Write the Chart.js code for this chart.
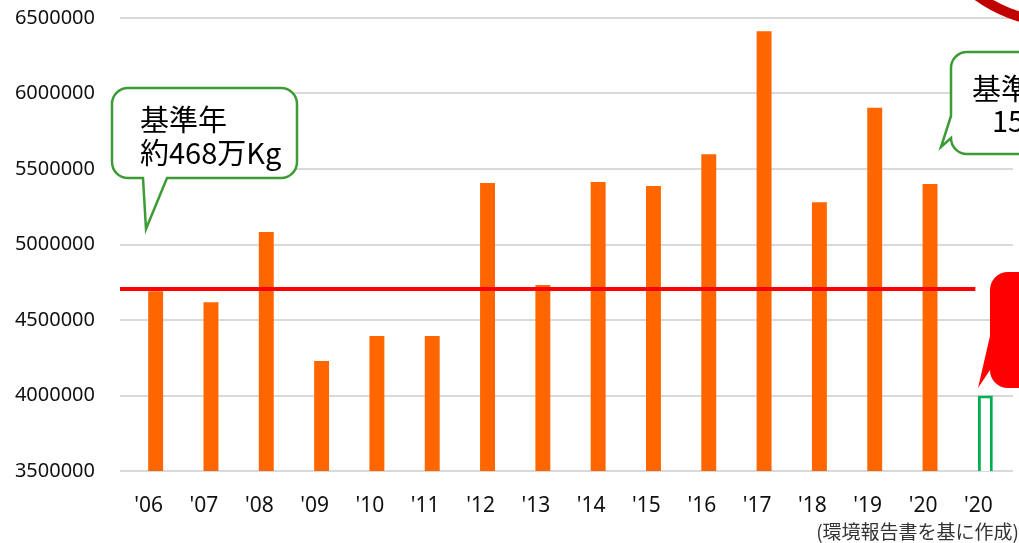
<!DOCTYPE html>
<html>
<head>
<meta charset="utf-8">
<script src="https://cdn.jsdelivr.net/npm/chart.js@4"></script>
<style>
  body { margin: 0; background: #fff; }
  #wrap { width: 1019px; height: 543px; }
</style>
</head>
<body>
<div id="wrap"><canvas id="chart" width="1019" height="543"></canvas></div>
<script>
// data
const years = ["'06", "'07", "'08", "'09", "'10", "'11", "'12", "'13", "'14", "'15", "'16", "'17", "'18", "'19", "'20", "'20"];
const emissions = [4690000, 4617000, 5083000, 4228000, 4394000, 4394000, 5407000, 4732000, 5414000, 5387000, 5597000, 6412000, 5279000, 5906000, 5400000, null];
const target = [null, null, null, null, null, null, null, null, null, null, null, null, null, null, null, 4000000];
const baseline = 4705000;
const yTicks = [3500000, 4000000, 4500000, 5000000, 5500000, 6000000, 6500000];

const numFont = '"Noto Sans", "DejaVu Sans", sans-serif';
const jpFont = '"Noto Sans CJK JP", "Noto Sans", sans-serif';

// red base-year line, drawn over the bars
const baseLine = {
    id: 'baseLine',
    afterDatasetsDraw(chart) {
        const { ctx, chartArea, scales } = chart;
        const y = scales.y.getPixelForValue(baseline);
        const lastX = scales.x.getPixelForValue(years.length - 1);
        ctx.save();
        ctx.strokeStyle = '#ff0000';
        ctx.lineWidth = 4;
        ctx.beginPath();
        ctx.moveTo(chartArea.left - 8, y);
        ctx.lineTo(lastX - 10, y);
        ctx.stroke();
        ctx.restore();
    }
};

// speech bubbles and notes laid over the chart
const overlays = {
    id: 'overlays',
    afterDraw(chart) {
        const ctx = chart.ctx;
        ctx.save();

        // left bubble (tail at bottom)
        let x0 = 112, y0 = 88, x1 = 297, y1 = 178, r = 16;
        ctx.beginPath();
        ctx.moveTo(x0 + r, y0);
        ctx.lineTo(x1 - r, y0);
        ctx.arcTo(x1, y0, x1, y0 + r, r);
        ctx.lineTo(x1, y1 - r);
        ctx.arcTo(x1, y1, x1 - r, y1, r);
        ctx.lineTo(167, y1);
        ctx.lineTo(146, 229);
        ctx.lineTo(143, y1);
        ctx.lineTo(x0 + r, y1);
        ctx.arcTo(x0, y1, x0, y1 - r, r);
        ctx.lineTo(x0, y0 + r);
        ctx.arcTo(x0, y0, x0 + r, y0, r);
        ctx.closePath();
        ctx.fillStyle = '#fff';
        ctx.fill();
        ctx.strokeStyle = '#3d9b35';
        ctx.lineWidth = 2.5;
        ctx.stroke();

        ctx.fillStyle = '#000';
        ctx.font = '29px ' + jpFont;
        ctx.textBaseline = 'middle';
        ctx.textAlign = 'left';
        ctx.fillText('基準年', 140, 120);
        ctx.fillText('約468万Kg', 140, 153);

        // right bubble (tail on left side), runs off the edge
        x0 = 951; y0 = 52; x1 = 1090; y1 = 154; r = 16;
        ctx.beginPath();
        ctx.moveTo(x0 + r, y0);
        ctx.lineTo(x1 - r, y0);
        ctx.arcTo(x1, y0, x1, y0 + r, r);
        ctx.lineTo(x1, y1 - r);
        ctx.arcTo(x1, y1, x1 - r, y1, r);
        ctx.lineTo(x0 + r, y1);
        ctx.arcTo(x0, y1, x0, y1 - r, r);
        ctx.lineTo(941, 147);
        ctx.lineTo(x0, 116);
        ctx.lineTo(x0, y0 + r);
        ctx.arcTo(x0, y0, x0 + r, y0, r);
        ctx.closePath();
        ctx.fillStyle = '#fff';
        ctx.fill();
        ctx.strokeStyle = '#3d9b35';
        ctx.stroke();

        ctx.fillStyle = '#000';
        ctx.fillText('基準年比', 972, 89);
        ctx.fillText('15%増', 992, 121);

        // red bubble pointing at the target bar
        x0 = 990; y0 = 272; x1 = 1090; y1 = 388; r = 18;
        ctx.beginPath();
        ctx.moveTo(x0 + r, y0);
        ctx.lineTo(x1 - r, y0);
        ctx.lineTo(x1, y1);
        ctx.lineTo(x0 + r, y1);
        ctx.arcTo(x0, y1, x0, y1 - r, r);
        ctx.lineTo(978, 388);
        ctx.lineTo(x0, 336);
        ctx.lineTo(x0, y0 + r);
        ctx.arcTo(x0, y0, x0 + r, y0, r);
        ctx.closePath();
        ctx.fillStyle = '#ff0000';
        ctx.fill();

        // dark red ring at the top right
        ctx.beginPath();
        ctx.arc(1062, -122, 145, 0, Math.PI * 2);
        ctx.strokeStyle = '#c00000';
        ctx.lineWidth = 10;
        ctx.stroke();

        // source note
        ctx.fillStyle = '#333';
        ctx.font = '19px ' + jpFont;
        ctx.textAlign = 'right';
        ctx.textBaseline = 'middle';
        ctx.fillText('(環境報告書を基に作成)', 1019, 532);

        ctx.restore();
    }
};

new Chart(document.getElementById('chart'), {
    type: 'bar',
    data: {
        labels: years,
        datasets: [{
            data: emissions,
            backgroundColor: '#ff6600',
            borderWidth: 0,
            grouped: false,
            categoryPercentage: 1,
            barPercentage: 0.27
        }, {
            data: target,
            backgroundColor: '#ffffff',
            borderColor: '#00b050',
            borderWidth: 3,
            borderSkipped: false,
            grouped: false,
            categoryPercentage: 1,
            barPercentage: 0.27
        }]
    },
    options: {
        responsive: false,
        animation: false,
        devicePixelRatio: 1,
        layout: { padding: { top: 0, right: 6, left: 0, bottom: 0 } },
        plugins: {
            legend: { display: false },
            tooltip: { enabled: false }
        },
        scales: {
            x: {
                grid: { display: false },
                border: { display: false },
                ticks: {
                    font: { family: numFont, size: 21 },
                    color: '#111',
                    padding: 14,
                    labelOffset: -7,
                    maxRotation: 0,
                    autoSkip: false
                },
                afterFit(scale) { scale.height = 72; }
            },
            y: {
                min: yTicks[0],
                max: yTicks[yTicks.length - 1],
                afterBuildTicks(scale) { scale.ticks = yTicks.map(v => ({ value: v })); },
                grid: {
                    color: '#d9d9d9',
                    lineWidth: 2,
                    drawTicks: true,
                    tickLength: 8,
                    tickColor: '#d9d9d9',
                    tickWidth: 2
                },
                border: { display: false },
                ticks: {
                    font: { family: numFont, size: 20 },
                    color: '#111',
                    padding: 25,
                    callback: v => String(v)
                },
                afterFit(scale) {
                    scale.width = 128;
                    scale.paddingTop = 18;
                }
            }
        }
    },
    plugins: [baseLine, overlays]
});
</script>
</body>
</html>
